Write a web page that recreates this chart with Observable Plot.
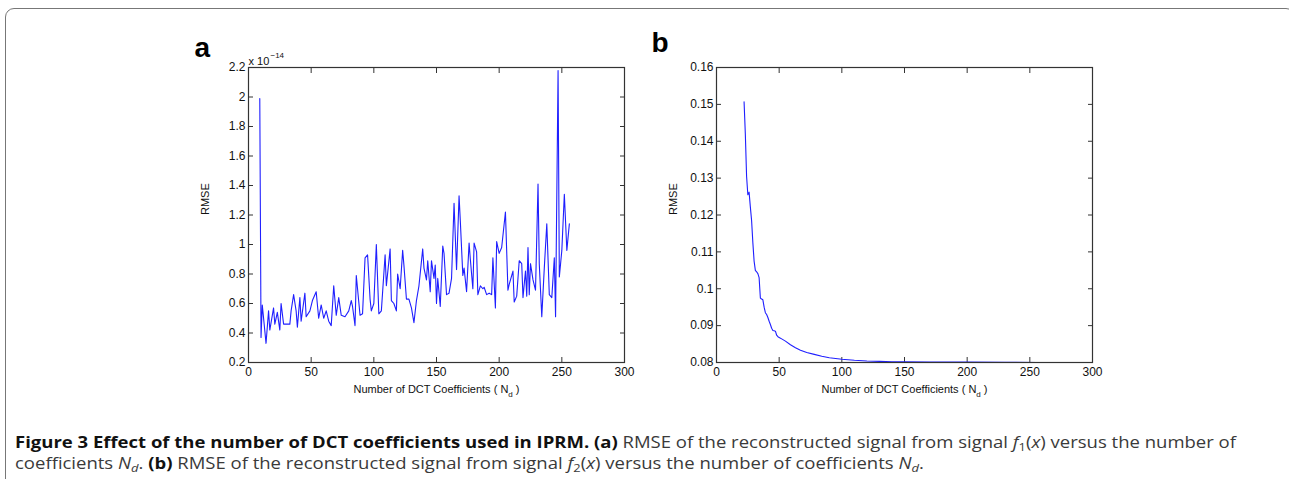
<!DOCTYPE html>
<html><head><meta charset="utf-8">
<script src="https://cdn.jsdelivr.net/npm/d3@7"></script>
<script src="https://cdn.jsdelivr.net/npm/@observablehq/plot@0.6"></script>
<style>
html,body{margin:0;padding:0;background:#fff}
body{width:1289px;height:479px;overflow:hidden;position:relative;font-family:"Liberation Sans",Arial,sans-serif}
#box{position:absolute;left:5px;top:8px;width:1290px;height:520px;border:1px solid #777;border-radius:9px 9px 0 0;box-sizing:border-box}
#pa,#pb{position:absolute;top:20px}
#pa{left:180px}
#pb{left:648px}
#cap{position:absolute;left:15px;top:431px;font-family:"Open Sans",sans-serif;font-size:16.5px;line-height:21px;color:#3a3a3a;white-space:nowrap;transform-origin:0 0}
#cap b{color:#111;font-weight:700}
#cap i{font-style:italic}
#cap sub{font-size:70%;vertical-align:-3px;line-height:0}
</style></head>
<body>
<div id="box"></div>
<div id="pa"></div>
<div id="pb"></div>
<div id="cap"><span id="l1"><b>Figure 3 Effect of the number of DCT coefficients used in IPRM. (a)</b> RMSE of the reconstructed signal from signal <i>f</i><sub>1</sub>(<i>x</i>) versus the number of</span><br><span id="l2">coefficients <i>N<sub>d</sub></i>. <b>(b)</b> RMSE of the reconstructed signal from signal <i>f</i><sub>2</sub>(<i>x</i>) versus the number of coefficients <i>N<sub>d</sub></i>.</span></div>
<script>
// ---- data (panel a: RMSE in units of 1e-14) ----
const ndA = [9,10,11,14,16,17,20,21,23,25,26,28,30,33,34,36,38,39,41,42,45,46,49,51,54,56,58,60,62,64,66,68,70,72,74,77,80,82,83,85,86,89,91,93,95,97,98,100,102,104,106,109,110,113,114,116,118,119,121,123,124,126,128,130,132,134,136,139,140,142,143,145,146,148,149,150,151,153,155,156,158,160,162,164,166,168,169,171,172,174,176,177,179,180,182,183,185,187,188,190,192,194,195,197,198,200,202,205,207,208,211,212,214,216,218,219,221,222,223,224,225,227,229,231,232,234,236,238,240,242,244,245,247,248,250,252,254,256];
const rmseA = [1.99,0.37,0.59,0.33,0.55,0.42,0.57,0.46,0.54,0.42,0.60,0.46,0.46,0.46,0.55,0.66,0.55,0.44,0.64,0.48,0.67,0.51,0.55,0.62,0.68,0.50,0.59,0.50,0.55,0.48,0.45,0.72,0.52,0.64,0.52,0.51,0.55,0.62,0.58,0.45,0.79,0.52,0.53,0.91,0.93,0.63,0.55,0.60,1.00,0.53,0.55,0.93,0.72,0.97,0.62,0.60,0.55,0.80,0.70,0.96,0.86,0.63,0.63,0.57,0.47,0.62,0.72,0.97,0.84,0.76,0.89,0.68,0.89,0.77,0.86,0.60,0.77,0.58,0.99,0.94,0.66,0.67,0.77,1.28,0.83,1.33,1.16,0.79,0.84,0.68,1.01,0.90,0.70,1.01,0.95,0.66,0.72,0.70,0.71,0.66,0.67,0.66,0.91,0.57,1.02,0.94,0.98,1.22,0.69,0.73,0.82,0.61,0.65,0.89,0.87,0.64,0.82,0.65,0.98,0.66,0.87,0.76,0.69,1.41,0.87,0.51,0.84,1.14,0.66,0.64,0.91,0.51,2.18,0.78,0.96,1.34,0.96,1.14];
// ---- data (panel b) ----
const ndB = [22,23,24,25,26,27,28,29,30,31,32,33,34,35,36,37,38,39,40,41,42,43,44,45,46,47,48,49,50,52,55,59,63,67,72,78,84,90,100,110,120,130,140,150,170,200,230,256];
const rmseB = [0.1507,0.1420,0.1305,0.1255,0.1262,0.1222,0.1185,0.1125,0.1075,0.1050,0.1046,0.1041,0.1030,0.0975,0.0972,0.0970,0.0950,0.0935,0.0930,0.0922,0.0912,0.0903,0.0893,0.0887,0.0886,0.0885,0.0874,0.0870,0.0868,0.0864,0.0858,0.0848,0.0840,0.0833,0.0827,0.0822,0.0817,0.0813,0.0809,0.0806,0.0804,0.0803,0.0802,0.0802,0.0801,0.0801,0.08005,0.0800];
// ---- ticks ----
const xTicks = [0,50,100,150,200,250,300];
const yTicksA = [0.2,0.4,0.6,0.8,1.0,1.2,1.4,1.6,1.8,2.0,2.2];
const yTicksB = [0.08,0.09,0.10,0.11,0.12,0.13,0.14,0.15,0.16];
const xLabel = "Number of DCT Coefficients ( Nd )";
const yLabel = "RMSE";

const AX = "#333";
function panel(nd, vals, yDomain, yTicks, yFmt, letter, letterDx, letterDy, extras) {
  const data = nd.map((n, i) => ({n, v: vals[i]}));
  const p = Plot.plot({
    width: 460, height: 390,
    marginLeft: 68, marginRight: 16, marginTop: 47, marginBottom: 48,
    style: {fontFamily: "'Liberation Sans', Arial, sans-serif", background: "transparent", overflow: "visible"},
    x: {domain: [0, 300]},
    y: {domain: yDomain},
    marks: [
      Plot.axisX(xTicks, {anchor: "bottom", tickSize: 0, tickPadding: 5, tickFormat: d => String(d), fontSize: 12, fill: "#111", label: null}),
      Plot.axisX(xTicks, {anchor: "bottom", tickSize: -5, tickFormat: () => "", stroke: AX, label: null}),
      Plot.axisX(xTicks, {anchor: "top", tickSize: -5, tickFormat: () => "", stroke: AX, label: null}),
      Plot.axisY(yTicks, {anchor: "left", tickSize: 0, tickPadding: 3, tickFormat: yFmt, fontSize: 12, fill: "#111", label: null}),
      Plot.axisY(yTicks, {anchor: "left", tickSize: -5, tickFormat: () => "", stroke: AX, label: null}),
      Plot.axisY(yTicks, {anchor: "right", tickSize: -5, tickFormat: () => "", stroke: AX, label: null}),
      Plot.line(data, {x: "n", y: "v", stroke: "#1f1fff", strokeWidth: 1.1}),
      Plot.frame({stroke: AX, strokeWidth: 1.2}),
      Plot.text([xLabel], {frameAnchor: "bottom", dy: 30, text: d => d, fontSize: 11, fill: "#111"}),
      Plot.text([yLabel], {frameAnchor: "left", dx: -43, rotate: -90, text: d => d, fontSize: 11, fill: "#111"}),
      Plot.text([letter], {frameAnchor: "top-left", dx: letterDx, dy: letterDy, textAnchor: "start", text: d => d, fontSize: 28, fontWeight: "bold", fill: "#000"}),
      ...extras
    ]
  });
  p.querySelectorAll("text").forEach(t => {
    if (t.textContent === xLabel) {
      t.innerHTML = 'Number of DCT Coefficients ( N<tspan font-size="8" dy="4">d</tspan><tspan dy="-4"> )</tspan>';
    }
  });
  return p;
}
const fmtA = d => String(+d.toFixed(1));
const fmtB = d => String(+d.toFixed(2));
const extrasA = [
  Plot.text(["x 10"], {frameAnchor: "top-left", dx: 0, dy: -10, textAnchor: "start", text: d => d, fontSize: 11, fill: "#111"}),
  Plot.text(["\u221214"], {frameAnchor: "top-left", dx: 22, dy: -15, textAnchor: "start", text: d => d, fontSize: 8, fill: "#111"})
];
document.getElementById("pa").append(panel(ndA, rmseA, [0.2, 2.2], yTicksA, fmtA, "a", -54, -30, extrasA));
document.getElementById("pb").append(panel(ndB, rmseB, [0.08, 0.16], yTicksB, fmtB, "b", -65, -35, []));

// condense caption horizontally so the first line spans the reference width
const cap = document.getElementById("cap");
const l1 = document.getElementById("l1");
const w = l1.getBoundingClientRect().width;
cap.style.transform = "scaleX(" + (1221 / w).toFixed(4) + ")";
</script>
</body></html>
